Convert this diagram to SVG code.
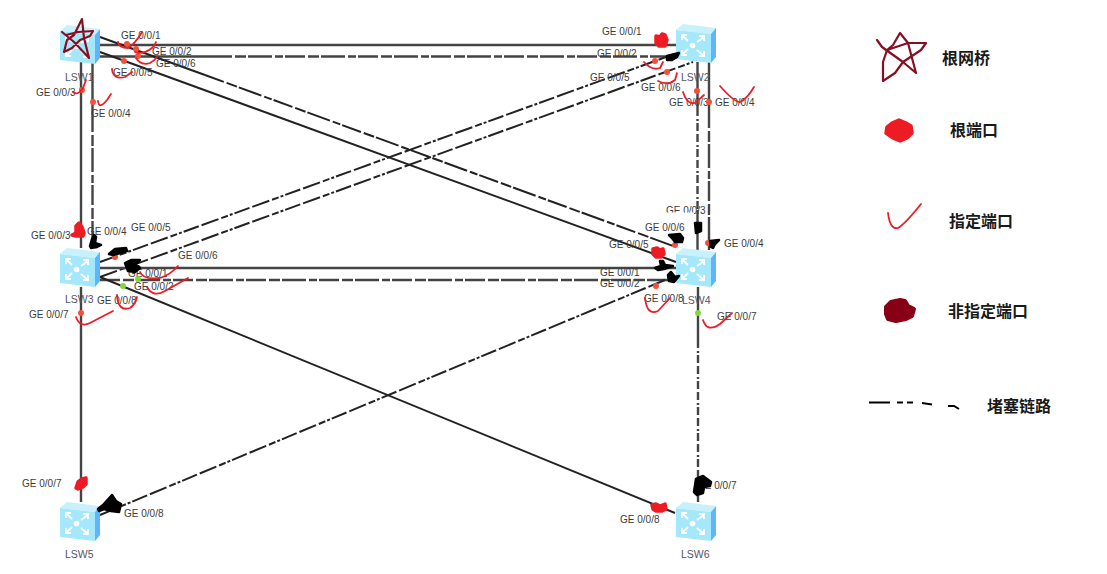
<svg xmlns="http://www.w3.org/2000/svg" xmlns:xlink="http://www.w3.org/1999/xlink" width="1107" height="574" viewBox="0 0 1107 574">
<style>
text{font-family:"Liberation Sans",Arial,sans-serif}
.p{font-size:10px;fill:#3c3c3c}
.n{font-size:10.5px;fill:#555566}
.l{font-size:16px;font-weight:700;fill:#1a1a1a;font-family:"Liberation Sans","Noto Sans CJK SC",sans-serif}
.s{stroke:#222;stroke-width:2;fill:none}
.h{stroke:#444;stroke-width:2.4;fill:none}
.d1{stroke-dasharray:20 3 11 2 24 3 8 2}
.d2{stroke-dasharray:18 3 7 2 3 2 16 3}
.d3{stroke-dasharray:8 3 2 2 8 3}
.c{fill:none;stroke:#ee1c25;stroke-width:1.8;stroke-linecap:round;stroke-linejoin:round}
.dot{fill:#f4503a}
.g{fill:#86d63e}
.r{fill:#ed1c24;stroke:#ed1c24;stroke-width:3.5;stroke-linejoin:round}
.b{fill:#000;stroke:#000;stroke-width:2.5;stroke-linejoin:round}
.k{fill:#880015;stroke:#880015;stroke-width:4;stroke-linejoin:round}
.st{fill:none;stroke:#880f22;stroke-width:2.2;stroke-linejoin:round;stroke-linecap:round}
.ar{stroke:#fff;stroke-width:2;fill:none;opacity:.95}
</style>
<defs>
<g id="sw">
<polygon points="0,6 7,0 40,4 35,10" fill="#c8f1fd"/>
<polygon points="0,6 35,10 35,39 0,35" fill="#a5e8fc"/>
<polygon points="35,10 40,4 40,33 35,39" fill="#5eb5f7"/>
<circle cx="16.5" cy="21.5" r="2.8" fill="#fff"/>
<path class="ar" d="M6,11 L12,17 M6,16 V11 H11 M28,13 L21,18 M23,12 H28 V17 M6,31 L12,25 M6,26 V31 H11 M28,32 L21,26 M23,32 H28 V27"/>
</g>
</defs>
<rect width="1107" height="574" fill="#fff"/>
<g id="connectors">
<line class="h" x1="100" y1="45" x2="676" y2="45"/>
<line class="h" x1="100" y1="56.500" x2="212" y2="56.500"/>
<line class="h d1" x1="212" y1="56.500" x2="676" y2="56.500"/>
<line class="s" x1="100" y1="37" x2="205" y2="75"/>
<line class="s d1" x1="205" y1="75" x2="676" y2="247"/>
<line class="s" x1="100" y1="52" x2="676" y2="262"/>
<line class="s d2" x1="100" y1="262" x2="680" y2="52"/>
<line class="s d2" x1="100" y1="277" x2="693" y2="62"/>
<line class="h" x1="81" y1="60" x2="81" y2="248"/>
<line class="h" x1="92.500" y1="60" x2="92.500" y2="112"/>
<line class="h d1" x1="92.500" y1="112" x2="92.500" y2="248"/>
<line class="h" x1="697.500" y1="62" x2="697.500" y2="108"/>
<line class="h d3" x1="697.500" y1="108" x2="697.500" y2="210"/>
<line class="h" x1="697.500" y1="210" x2="697.500" y2="250"/>
<line class="h" x1="709" y1="62" x2="709" y2="108"/>
<line class="h d1" x1="709" y1="108" x2="709" y2="250"/>
<line class="h" x1="100" y1="268" x2="676" y2="268"/>
<line class="h d1" x1="100" y1="280" x2="676" y2="280"/>
<line class="s" x1="100" y1="277" x2="675" y2="513"/>
<line class="s d2" x1="100" y1="515" x2="677" y2="275"/>
<line class="h" x1="81" y1="287" x2="81" y2="502"/>
<line class="h" x1="698" y1="287" x2="698" y2="340"/>
<line class="h d3" x1="698" y1="340" x2="698" y2="502"/>
</g>
<g id="LSW1">
<use href="#sw" xlink:href="#sw" x="60" y="25"/>
<text class="n" x="65" y="81">LSW1</text>
<text class="p" x="121" y="39">GE 0/0/1</text>
<text class="p" x="152" y="55">GE 0/0/2</text>
<text class="p" x="156" y="67">GE 0/0/6</text>
<text class="p" x="113" y="76">GE 0/0/5</text>
<text class="p" x="36" y="96">GE 0/0/3</text>
<text class="p" x="91" y="117">GE 0/0/4</text>
</g>
<g id="LSW2">
<use href="#sw" xlink:href="#sw" x="676" y="24"/>
<text class="n" x="681" y="81">LSW2</text>
<text class="p" x="602" y="35">GE 0/0/1</text>
<text class="p" x="597" y="57">GE 0/0/2</text>
<text class="p" x="590" y="81">GE 0/0/5</text>
<text class="p" x="641" y="91">GE 0/0/6</text>
<text class="p" x="669" y="106">GE 0/0/3</text>
<text class="p" x="715" y="106">GE 0/0/4</text>
</g>
<g id="LSW3">
<use href="#sw" xlink:href="#sw" x="60" y="248"/>
<text class="n" x="65" y="303">LSW3</text>
<text class="p" x="31" y="239">GE 0/0/3</text>
<text class="p" x="87" y="235">GE 0/0/4</text>
<text class="p" x="131" y="231">GE 0/0/5</text>
<text class="p" x="178" y="259">GE 0/0/6</text>
<text class="p" x="128" y="277">GE 0/0/1</text>
<text class="p" x="134" y="290">GE 0/0/2</text>
<text class="p" x="97" y="304">GE 0/0/8</text>
<text class="p" x="29" y="318">GE 0/0/7</text>
</g>
<g id="LSW4">
<use href="#sw" xlink:href="#sw" x="676" y="248"/>
<text class="n" x="682" y="304">LSW4</text>
<text class="p" x="666" y="214">GE 0/0/3</text>
<rect x="664" y="212.500" width="30" height="4" fill="#fff"/>
<text class="p" x="645" y="231">GE 0/0/6</text>
<text class="p" x="609" y="248">GE 0/0/5</text>
<text class="p" x="724" y="247">GE 0/0/4</text>
<text class="p" x="600" y="276">GE 0/0/1</text>
<text class="p" x="600" y="287">GE 0/0/2</text>
<text class="p" x="644" y="302">GE 0/0/8</text>
<text class="p" x="717" y="320">GE 0/0/7</text>
</g>
<g id="LSW5">
<use href="#sw" xlink:href="#sw" x="60" y="502"/>
<text class="n" x="65" y="558">LSW5</text>
<text class="p" x="22" y="487">GE 0/0/7</text>
<text class="p" x="124" y="517">GE 0/0/8</text>
</g>
<g id="LSW6">
<use href="#sw" xlink:href="#sw" x="676" y="502"/>
<text class="n" x="681" y="558">LSW6</text>
<text class="p" x="697" y="489">GE 0/0/7</text>
<text class="p" x="620" y="523">GE 0/0/8</text>
</g>
<g id="port-dots">
<circle class="dot" cx="127" cy="44" r="3"/><circle class="dot" cx="136" cy="49" r="3"/><circle class="dot" cx="138" cy="56" r="3"/><circle class="dot" cx="124" cy="61" r="3"/><circle class="dot" cx="82" cy="90" r="3"/><circle class="dot" cx="93" cy="102" r="3"/>
<circle class="dot" cx="655" cy="61" r="3"/><circle class="dot" cx="667" cy="72" r="3"/><circle class="dot" cx="697" cy="91" r="3"/><circle class="dot" cx="709" cy="102" r="3"/>
<circle class="dot" cx="81" cy="313" r="3"/><circle class="dot" cx="115" cy="257" r="3"/><circle class="g" cx="123" cy="286" r="3"/><circle class="g" cx="138" cy="279" r="3"/>
<circle class="dot" cx="675" cy="245" r="3"/><circle class="dot" cx="708" cy="243" r="3"/><circle class="dot" cx="656" cy="286" r="3"/><circle class="g" cx="698" cy="313" r="3"/>
</g>
<g id="checks">
<path class="c" d="M118,42 Q119,48 128,48 Q135,44 142,32"/>
<path class="c" d="M135,52 Q143,55 152,48 Q155,46 156,42"/>
<path class="c" d="M136,58 Q141,66 150,63 Q154,61 157,57"/>
<path class="c" d="M112,69 Q113,80 125,77 L132,72"/>
<path class="c" d="M73,92 Q78,96 83,88 L86,80"/>
<path class="c" d="M98,101 Q99,110 107,100 L111,94"/>
<path class="c" d="M644,62 Q652,71 660,68 L663,62"/>
<path class="c" d="M658,81 Q668,86 675,80 L677,73"/>
<path class="c" d="M683,92 Q687,105 695,103 L704,95"/>
<path class="c" d="M720,86 Q734,102 740,102 Q747,99 754,87"/>
<path class="c" d="M140,272 Q143,280 160,278 Q170,275 178,266"/>
<path class="c" d="M147,287 Q153,298 165,291 L188,278"/>
<path class="c" d="M117,295 Q118,312 130,308 Q135,305 137,297"/>
<path class="c" d="M76,317 Q80,328 90,323 L113,311"/>
<path class="c" d="M645,298 Q647,316 658,311 L670,298"/>
<path class="c" d="M703,320 Q707,333 720,324 L732,313"/>
</g>
<g id="root-ports">
<path class="r" d="M656,36 L660,37 L662,34 L665,35 L667,40 L665,46 L659,46 L656,43Z"/>
<path class="r" d="M72,235 L76,233 L76,226 L79,223 L82,227 L84,233 L83,236 L76,236Z"/>
<path class="r" d="M653,249 L657,248 L660,250 L663,249 L664,254 L661,257 L656,257 L653,254Z"/>
<path class="r" d="M76,488 L78,482 L82,479 L86,478 L86,484 L83,487 L78,489Z"/>
<path class="r" d="M652,505 L656,504 L660,506 L665,504 L666,509 L662,511 L656,511 L653,509Z"/>
</g>
<g id="blocked-ports">
<path class="b" d="M667,56 L675,54 L679,53 L677,57 L672,60 L667,60Z"/>
<path class="b" d="M90,246 L92,239 L94,235 L96,237 L95,243 L101,245 L97,247 L91,248Z"/>
<path class="b" d="M109,254 L115,249 L126,248 L127,251 L120,253 L113,255Z"/>
<path class="b" d="M125,263 L131,260 L140,260 L136,264 L140,268 L135,272 L128,271Z"/>
<path class="b" d="M695,223 L701,223 L701,231 L696,233Z"/>
<path class="b" d="M669,235 L680,234 L683,238 L682,242 L675,242 L672,238Z"/>
<path class="b" d="M710,241 L719,240 L715,244 L713,248 L711,247Z"/>
<path class="b" d="M655,268 L661,266 L660,261 L663,261 L665,265 L673,266 L664,269 L658,270Z"/>
<path class="b" d="M669,281 L668,275 L671,272 L675,277 L679,276 L674,282Z"/>
<path class="b" d="M98,509 L103,505 L112,495 L116,501 L121,504 L119,512 L111,511 L104,509 L99,511Z"/>
<path class="b" d="M694,492 L696,479 L703,476 L707,479 L711,482 L710,486 L704,487 L703,493 L697,495Z"/>
</g>
<g id="star">
<path class="st" d="M62,32 L74,42 L89,58 L84,38 L82,19 L74,35 L67,40 L64,52 L72,48 L80,40 L90,36 L93,31 L78,32 L66,35"/>
</g>
<g id="legend">
<path class="st" d="M877,40 L882,47 L903,62 L916,73 L908,43 L900,33 L893,45 L887,50 L883,62 L883,81 L895,73 L903,62 L921,50 L926,43 L908,43 L887,50"/>
<text class="l" x="942" y="64">根网桥</text>
<path class="r" d="M887,127 L892,123 L899,120 L906,123 L911,126 L912,133 L907,138 L900,141 L893,138 L886,133Z"/>
<text class="l" x="950" y="136">根端口</text>
<path class="c" d="M888,213 Q890,230 898,228 Q905,224 921,204"/>
<text class="l" x="949" y="227">指定端口</text>
<path class="k" d="M886,307 L891,302 L900,300 L905,301 L908,306 L914,309 L912,316 L906,319 L896,321 L888,319 L886,314Z"/>
<text class="l" x="948" y="317">非指定端口</text>
<path fill="none" stroke="#000" stroke-width="2" d="M869,402.500 H890 M897,402.500 H903 M907,402.500 H913 M922,403 L932,404.500 M948,406 L954,406 L959,409"/>
<text class="l" x="987" y="412">堵塞链路</text>
</g>
</svg>
